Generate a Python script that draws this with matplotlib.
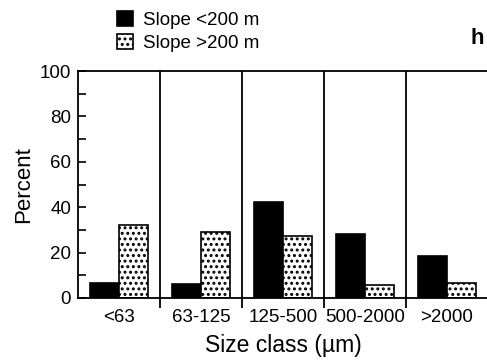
import matplotlib

matplotlib.use("Agg")

import matplotlib.pyplot as plt
import numpy as np

plt.rcParams["font.family"] = ["Liberation Sans", "DejaVu Sans"]
plt.rcParams["hatch.linewidth"] = 1.4

categories = ["<63", "63-125", "125-500", "500-2000", ">2000"]
shallow = [6.8, 6.1, 42.4, 28.3, 18.7]
deep = [32.1, 29.0, 27.3, 5.9, 6.5]
y_ticks = [0, 20, 40, 60, 80, 100]

fig = plt.figure(figsize=(4.87, 3.63), dpi=100)
ax = fig.add_axes([78 / 487, (363 - 298) / 363, 410 / 487, 227 / 363])

x = np.arange(len(categories)) + 0.5
width = 0.35
ax.bar(x - width / 2, shallow, width, color="black", edgecolor="black",
       linewidth=1.2, label="Slope <200 m")
ax.bar(x + width / 2, deep, width, color="white", edgecolor="black",
       hatch="...", linewidth=1.2, label="Slope >200 m")

ax.vlines(np.arange(1, len(categories)), -4.5, 100, color="black",
          linewidth=1.3, clip_on=False)

ax.set_xlim(0, len(categories))
ax.set_ylim(0, 100)
ax.set_xticks(x)
ax.set_xticklabels(categories, fontsize=13.5)
ax.tick_params(axis="x", length=0, pad=8)
ax.set_yticks(y_ticks)
ax.set_yticks([10, 30, 50, 70, 90], minor=True)
ax.tick_params(axis="y", direction="in", length=6, width=1.2, labelsize=13.5, pad=5)
ax.tick_params(axis="y", which="minor", direction="in", length=6, width=1.2)
for side in ["left", "bottom", "top"]:
    ax.spines[side].set_linewidth(1.3)
ax.spines["right"].set_visible(False)

ax.set_ylabel("Percent", fontsize=16, labelpad=4)
ax.set_xlabel("Size class (µm)", fontsize=16.5, labelpad=6)

ax.legend(loc="upper left", bbox_to_anchor=(39 / 410, 1 + 60 / 227), frameon=False,
          fontsize=13.5, handlelength=0.85, handleheight=0.85, handletextpad=0.55,
          labelspacing=0.25, borderaxespad=0, borderpad=0)

fig.text(470 / 487, 1 - 38 / 363, "h", fontsize=16, fontweight="bold",
         ha="left", va="center")

fig.savefig("out.png", dpi=100)
